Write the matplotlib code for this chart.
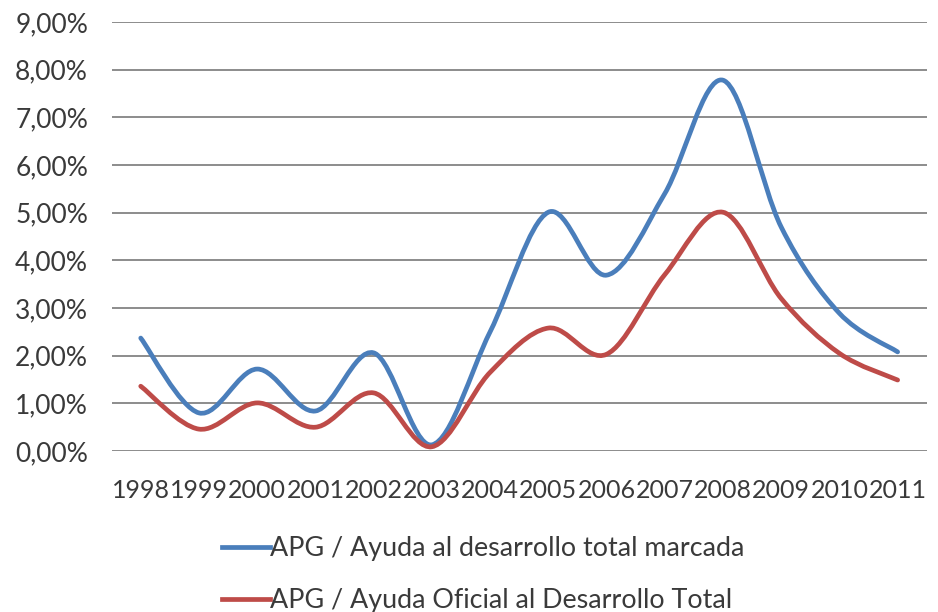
import numpy as np
import matplotlib.pyplot as plt
from matplotlib.path import Path
from matplotlib.patches import PathPatch
from matplotlib.lines import Line2D
from matplotlib.ticker import FuncFormatter

years = ["1998", "1999", "2000", "2001", "2002", "2003", "2004",
         "2005", "2006", "2007", "2008", "2009", "2010", "2011"]

# values in %
marcada = [2.37, 0.80, 1.72, 0.84, 2.06, 0.13, 2.50,
           5.01, 3.69, 5.40, 7.78, 4.70, 2.89, 2.08]
oficial = [1.36, 0.46, 1.01, 0.50, 1.22, 0.09, 1.65,
           2.58, 2.03, 3.70, 5.01, 3.20, 2.05, 1.49]

labels = ["APG / Ayuda al desarrollo total marcada",
          "APG / Ayuda Oficial al Desarrollo Total"]
colors = ["#4a7ebb", "#be4b48"]

plt.rcParams['font.family'] = ['Lato', 'DejaVu Sans']
text_color = "#3a3a3a"


def smooth_path(x, y):
    """Excel-like smoothed line: cubic Bezier through every point."""
    pts = np.column_stack([x, y]).astype(float)
    ext = np.vstack([pts[0], pts, pts[-1]])
    verts = [pts[0]]
    codes = [Path.MOVETO]
    for i in range(len(pts) - 1):
        p0, p1, p2, p3 = ext[i], ext[i + 1], ext[i + 2], ext[i + 3]
        c1 = p1 + (p2 - p0) / 6.0
        c2 = p2 - (p3 - p1) / 6.0
        verts += [c1, c2, p2]
        codes += [Path.CURVE4] * 3
    return Path(verts, codes)


fig = plt.figure(figsize=(9.38, 6.12), dpi=100)
ax = fig.add_axes([0.119, 0.263, 0.869, 0.701])

x = np.arange(len(years))
for vals, c in zip([marcada, oficial], colors):
    patch = PathPatch(smooth_path(x, vals), facecolor='none', edgecolor=c,
                      lw=3.4, capstyle='round', joinstyle='round', zorder=3)
    ax.add_patch(patch)

ax.set_xlim(-0.5, len(years) - 0.5)
ax.set_ylim(0, 9)
ax.set_yticks(np.arange(0, 10, 1))
ax.yaxis.set_major_formatter(FuncFormatter(lambda v, p: f"{v:.2f}".replace(".", ",") + "%"))
ax.set_xticks(x)
ax.set_xticklabels(years)
ax.grid(axis='y', color='#8c8c8c', lw=1.4)
ax.set_axisbelow(True)
for s in ax.spines.values():
    s.set_visible(False)
ax.tick_params(length=0, colors=text_color)
ax.tick_params(axis='y', labelsize=19, pad=17)
ax.tick_params(axis='x', labelsize=18, pad=20)

handles = [Line2D([], [], color=c, lw=3.4) for c in colors]
fig.legend(handles, labels, loc='upper left', bbox_to_anchor=(0.225, 0.141),
           frameon=False, fontsize=19.4, handlelength=1.78, handletextpad=0.0,
           labelspacing=1.0, labelcolor=text_color, borderaxespad=0)

fig.savefig("out.png", dpi=100)
